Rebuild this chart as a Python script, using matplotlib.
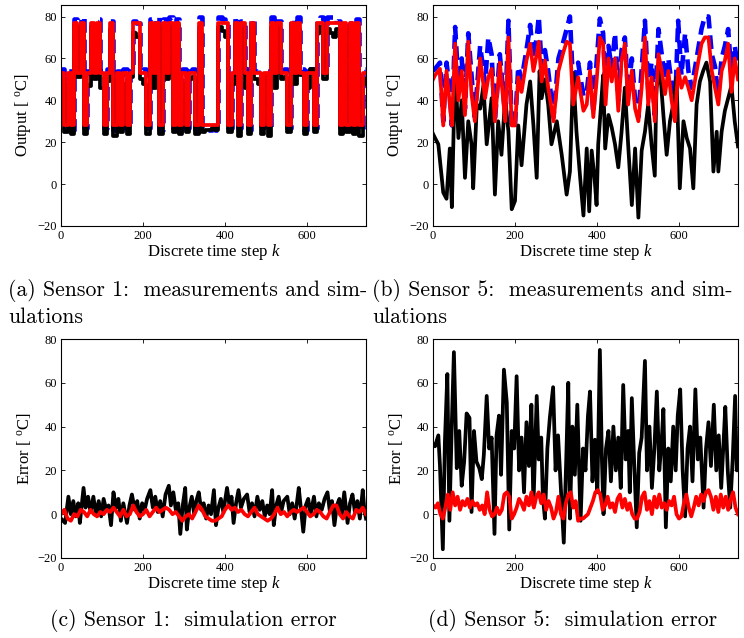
import numpy as np
import matplotlib
matplotlib.use('Agg')
import matplotlib.pyplot as plt

plt.rcParams['font.family'] = 'Liberation Serif'
plt.rcParams['mathtext.fontset'] = 'custom'
plt.rcParams['mathtext.rm'] = 'Liberation Serif'
plt.rcParams['mathtext.it'] = 'Liberation Serif:italic'

# ---- Sensor 1: levels held over 8-step slots (k = 0, 8, ..., 744)
k_s1 = np.arange(0, 745, 8)
meas_s1 = [55, 27, 54, 26, 79, 55, 80, 27, 54, 78,
           55, 79, 54, 27, 55, 78, 26, 54, 27, 55,
           26, 54, 78, 77, 54, 55, 27, 79, 55, 80,
           26, 79, 54, 80, 27, 79, 26, 55, 27, 54,
           55, 26, 80, 27, 26, 26, 27, 26, 80, 79,
           78, 27, 54, 80, 27, 78, 55, 26, 79, 54,
           55, 26, 54, 27, 80, 55, 78, 54, 55, 27,
           79, 54, 80, 55, 26, 54, 55, 27, 78, 80,
           55, 80, 80, 79, 78, 27, 78, 26, 77, 27,
           79, 26, 55, 54]
simA_s1 = [50, 25, 48, 24, 76, 51, 75, 24, 47, 75,
           50, 76, 46, 24, 49, 74, 23, 50, 25, 48,
           24, 51, 72, 70, 50, 48, 24, 75, 46, 76,
           24, 75, 50, 74, 25, 76, 24, 48, 25, 50,
           51, 24, 72, 25, 26, 26, 27, 26, 75, 73,
           70, 25, 48, 76, 23, 74, 46, 24, 75, 50,
           48, 24, 51, 23, 75, 46, 74, 50, 51, 25,
           76, 48, 74, 52, 24, 46, 55, 25, 72, 75,
           50, 74, 72, 70, 74, 24, 75, 25, 74, 24,
           76, 23, 50, 48]
simB_s1 = [53, 28, 53, 28, 77, 53, 77, 28, 53, 77,
           53, 77, 53, 28, 53, 77, 28, 53, 28, 53,
           28, 53, 77, 77, 53, 53, 28, 77, 53, 77,
           28, 77, 53, 77, 28, 77, 28, 53, 28, 53,
           53, 28, 77, 28, 28, 28, 28, 28, 77, 77,
           77, 28, 53, 77, 28, 77, 53, 28, 77, 53,
           53, 28, 53, 28, 77, 53, 77, 53, 53, 28,
           77, 53, 77, 53, 28, 53, 53, 28, 77, 77,
           53, 77, 77, 77, 77, 28, 77, 28, 77, 28,
           77, 28, 53, 53]

# ---- Sensor 5: measurement and model B share time points
k_s5 = [0, 5, 17, 25, 33, 41, 46, 54, 62, 70, 78, 86, 94, 102, 115, 127, 135, 143,
        151, 163, 176, 184, 192, 200, 208, 216, 228, 237, 245, 253, 258, 265, 273,
        281, 294, 306, 318, 326, 334, 342, 354, 367, 375, 383, 391, 399, 407, 415,
        421, 428, 436, 444, 452, 460, 468, 476, 485, 493, 501, 509, 517, 525, 533,
        541, 550, 558, 566, 574, 582, 590, 598, 606, 615, 623, 631, 643, 655, 663,
        672, 680, 688, 696, 704, 712, 720, 728, 736, 744]
meas_s5 = [54, 55, 58, 30, 58, 45, 28, 75, 48, 60,
           36, 72, 52, 32, 66, 48, 70, 62, 30, 62,
           33, 78, 27, 28, 56, 50, 64, 76, 60, 70,
           80, 56, 64, 54, 32, 60, 68, 74, 80, 46,
           58, 42, 44, 58, 34, 58, 79, 72, 45, 66,
           55, 72, 40, 64, 70, 44, 60, 40, 32, 55,
           78, 45, 58, 33, 74, 62, 50, 60, 48, 34,
           78, 52, 72, 54, 46, 60, 74, 80, 80, 62,
           56, 42, 60, 66, 74, 52, 66, 56]
simB_s5 = [50, 52, 55, 28, 54, 38, 28, 67, 40, 54,
           33, 68, 43, 30, 60, 41, 51, 55, 30, 58,
           30, 70, 28, 28, 51, 44, 59, 67, 54, 62,
           68, 49, 59, 46, 30, 54, 63, 68, 67, 38,
           51, 35, 38, 54, 32, 49, 70, 67, 38, 60,
           49, 60, 35, 59, 67, 38, 54, 36, 30, 46,
           70, 38, 51, 30, 62, 54, 43, 54, 40, 30,
           55, 46, 51, 46, 40, 54, 67, 70, 70, 54,
           46, 38, 54, 59, 67, 44, 60, 50]
k_s5A = [0, 5, 13, 25, 33, 41, 46, 54, 62, 70, 78, 86, 94, 98, 107, 115, 123, 131,
         143, 151, 159, 167, 176, 184, 192, 200, 208, 216, 228, 237, 245, 253, 260,
         265, 273, 281, 289, 302, 314, 326, 334, 342, 350, 359, 367, 375, 381, 387,
         394, 399, 403, 410, 415, 420, 428, 436, 444, 452, 460, 468, 476, 485, 493,
         501, 509, 517, 525, 533, 541, 545, 554, 562, 570, 578, 586, 594, 602, 611,
         619, 627, 635, 643, 651, 659, 667, 676, 684, 692, 696, 704, 712, 720, 728,
         736, 744]
simA_s5 = [24, 22, 19, -4, -7, 17, -11, 57, 22, 40,
           3, 30, 19, -2, 38, 36, 47, 19, 41, -5,
           30, 14, 41, 25, -12, -8, 28, 9, 38, 49,
           28, 3, 54, 41, 50, 38, 19, 30, 14, -5,
           6, 53, 25, 3, -15, 17, -13, 16, 3, -10,
           19, 38, 52, 17, 33, 27, 19, 8, 25, 46,
           19, -10, 17, -16, 16, 25, 38, 19, 4, 46,
           54, 33, 14, 30, 38, 51, -2, 30, 22, 17,
           -2, 38, 49, 54, 58, 49, 6, 25, 6, 25,
           35, 41, 47, 30, 18]

# ---- Simulation errors, sensor 1
k_e1A = [0, 5, 10, 18, 24, 30, 36, 42, 46, 55, 60, 66, 72, 79, 85, 92, 98, 104,
         110, 116, 122, 128, 134, 140, 146, 152, 161, 167, 173, 180, 186, 192, 198,
         204, 210, 218, 224, 230, 236, 242, 248, 255, 263, 268, 274, 280, 286, 291,
         297, 303, 307, 313, 319, 325, 330, 336, 342, 348, 354, 360, 366, 373, 378,
         384, 390, 396, 405, 411, 416, 421, 427, 433, 439, 446, 454, 460, 466, 472,
         479, 485, 491, 497, 503, 509, 515, 519, 525, 531, 537, 543, 552, 558, 564,
         570, 576, 580, 585, 591, 597, 603, 609, 617, 623, 629, 636, 643, 650, 656,
         661, 667, 673, 679, 685, 691, 699, 705, 711, 717, 723, 729, 736, 740, 744]
errA_s1 = [-2, -3, -4, 8, 0, 6, -1, 5, -4, 12, 3, 8, 1, 8, 0, 6, -1, 7,
           2, 4, -5, 10, 3, 7, -3, 5, -4, 4, 9, 2, 6, -2, 5,
           2, 7, 11, 3, 8, 1, 6, -1, 9, 13, 4, 10, 2, 5, -9,
           4, 12, -7, 3, 8, 0, 6, 10, 2, 5, -2, 4, 0, 11, -5,
           3, 7, 1, 12, 4, 8, -4, 5, 11, 3, 7, 9, 1, 5, -1,
           8, 2, 6, -1, 4, 0, 11, -5, 4, 8, 1, 6, 8, 0, 5,
           -2, 6, 12, 3, -8, 4, 7, 0, 8, -1, 5, 2, 7, 10, 1,
           6, -5, 4, 7, 0, 10, -4, 5, 9, 1, 6, -2, 11, 2, -2]
k_e1B = np.arange(0, 745, 8)
errB_s1 = [0, 2, -2, -3, 0, -1, 2, 1, -1, 2,
           0, -1, 1, 0, 2, 1, 3, 1, -1, 2,
           -1, 0, 4, 1, -1, 0, 2, -1, 1, 3,
           1, 2, 3, 2, 0, 1, -1, -3, -1, 0,
           -2, 1, 4, 2, -1, -2, -3, -3, -2, -1,
           2, 4, 2, 3, 1, 2, 0, -1, 1, 3,
           0, -1, -2, -3, -2, 0, 3, 0, 1, -1,
           1, 2, 1, 2, 3, 1, -1, 0, 2, 1,
           -1, -2, 1, 4, 4, 0, -2, 1, -1, -2,
           2, 1, 3, 0]

# ---- Simulation errors, sensor 5
k_e5A = [0, 5, 13, 17, 24, 29, 35, 40, 46, 51, 58, 64, 70, 76, 82, 89, 94, 100,
         106, 113, 119, 124, 131, 137, 143, 150, 155, 161, 166, 173, 180, 186, 192,
         198, 204, 210, 216, 222, 228, 234, 240, 245, 253, 258, 264, 268, 273, 279,
         285, 293, 299, 305, 311, 319, 325, 330, 334, 340, 346, 352, 360, 366, 372,
         378, 383, 389, 395, 401, 407, 412, 416, 422, 428, 434, 440, 446, 452, 458,
         464, 470, 476, 480, 485, 491, 497, 503, 509, 517, 522, 528, 534, 540, 546,
         552, 558, 562, 568, 574, 580, 586, 592, 597, 603, 609, 615, 621, 627, 633,
         640, 646, 652, 660, 666, 672, 678, 685, 691, 697, 703, 708, 713, 719, 725,
         731, 737, 741, 744]
errA_s5 = [32, 31, 36, 22, -16, 33, 64, -3, 42, 74, 21, 38, 13, 24, 46, 44, 1, 38,
           24, 21, 16, 27, 54, 30, 35, -9, 36, 45, 18, 66, 51, -7, 38,
           30, 63, 20, 35, 10, 42, 22, 50, 4, 54, 25, 35, 8, -2, 30,
           44, 58, 20, 36, 15, -13, 25, 60, -2, 40, 18, 50, -3, 30, 20,
           45, 56, 15, 34, 10, 75, 25, 0, 30, 38, 15, 40, 20, 35, 12,
           59, 25, 38, 10, 53, 22, -6, 28, 35, 70, 20, 40, 12, 30, 56,
           20, 34, 48, -6, 30, 15, 40, 20, 45, 57, 20, -1, 30, 40, 15,
           57, 25, 35, 3, 30, 42, 22, 50, 20, 36, 12, 30, 49, 20, 3,
           25, 54, 20, 30]
k_e5B = np.arange(0, 745, 6)
errB_s5 = [4, 3, 5, 0, -2, 3, 9, 2, 10, 4, 8, 2, 6, 4, 7, 3, 6, 4, 5, 2,
           4, 0, 10, 2, -1, 0, 3, 0, 2, 9, 10, 8, -2, 0, 3, 7, 5, 2, 8, 4,
           10, 3, 8, 10, 5, 9, 2, 6, 3, -2, 1, 8, 0, -2, 5, 9, 10, 3, 6, -3,
           -2, -2, -1, 0, 3, 6, 10, 11, 9, 2, 4, 8, 3, 5, 1, 7, 9, 3, 7, 2,
           5, 0, -2, -2, 1, 8, 10, 2, 6, 0, 8, 3, 9, 3, 5, 2, 6, 4, 8, 0,
           -2, -1, 5, 9, 3, -1, 3, 8, 4, 9, 6, 10, 11, 8, 2, 8, 1, 9, 3, 8,
           2, 7, 10, 3, 0]

x_ticks = [0, 200, 400, 600]
y_ticks = [-20, 0, 20, 40, 60, 80]

fig = plt.figure(figsize=(7.44, 6.38), dpi=100)

W = 305 / 744
axes_pos = {
    'a': [61 / 744, 1 - 226 / 638, W, 221 / 638],
    'b': [433 / 744, 1 - 226 / 638, W, 221 / 638],
    'c': [61 / 744, 1 - 558 / 638, W, 219 / 638],
    'd': [433 / 744, 1 - 558 / 638, W, 219 / 638],
}


def style(ax, ylabel, ytop):
    ax.set_xlim(0, 744)
    ax.set_ylim(-20, ytop)
    ax.set_xticks(x_ticks)
    ax.set_yticks(y_ticks)
    ax.tick_params(direction='in', top=True, right=True, length=3,
                   width=0.6, labelsize=9, pad=3)
    for s in ax.spines.values():
        s.set_linewidth(0.8)
    ax.set_xlabel('Discrete time step $k$', fontsize=12, labelpad=0)
    ax.set_ylabel(ylabel, fontsize=12, labelpad=3)


lw = 2.7
out_label = r'Output [ $^{\mathrm{o}}$C]'
err_label = r'Error [ $^{\mathrm{o}}$C]'

ax = fig.add_axes(axes_pos['a'])
ax.plot(k_s1, meas_s1, color='blue', lw=lw + 0.6, ls=(0, (3, 1.5)), drawstyle='steps-post')
ax.plot(k_s1, simA_s1, color='black', lw=lw, drawstyle='steps-post')
ax.plot(k_s1, simB_s1, color='red', lw=lw, drawstyle='steps-post')
style(ax, out_label, 85.5)

ax = fig.add_axes(axes_pos['b'])
ax.plot(k_s5, meas_s5, color='blue', lw=lw + 0.6, ls=(0, (3, 1.5)))
ax.plot(k_s5A, simA_s5, color='black', lw=lw)
ax.plot(k_s5, simB_s5, color='red', lw=lw)
style(ax, out_label, 85.5)

ax = fig.add_axes(axes_pos['c'])
ax.plot(k_e1A, errA_s1, color='black', lw=lw)
ax.plot(k_e1B, errB_s1, color='red', lw=lw)
style(ax, err_label, 80)

ax = fig.add_axes(axes_pos['d'])
ax.plot(k_e5A, errA_s5, color='black', lw=lw)
ax.plot(k_e5B, errB_s5, color='red', lw=lw)
style(ax, err_label, 80)

# sub-figure captions
cap = dict(fontfamily='cmr10', fontsize=15.6, va='center')
fig.text(8 / 744, 1 - 291 / 638, '(a) Sensor 1:  measurements and sim-', ha='left', **cap)
fig.text(8 / 744, 1 - 317 / 638, 'ulations', ha='left', **cap)
fig.text(372 / 744, 1 - 291 / 638, '(b) Sensor 5:  measurements and sim-', ha='left', **cap)
fig.text(372 / 744, 1 - 317 / 638, 'ulations', ha='left', **cap)
fig.text(193 / 744, 1 - 621 / 638, '(c) Sensor 1:  simulation error', ha='center', **cap)
fig.text(573 / 744, 1 - 621 / 638, '(d) Sensor 5:  simulation error', ha='center', **cap)

fig.savefig('out.png', dpi=100)
